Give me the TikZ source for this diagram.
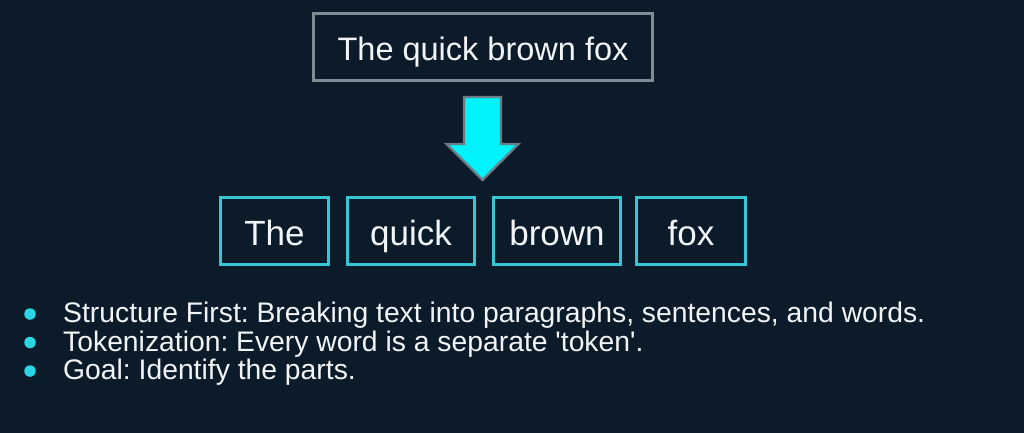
\documentclass[tikz,border=0pt]{standalone}
\usepackage{fontspec}
\setmainfont{Liberation Sans}
\frenchspacing
\definecolor{bgcol}{HTML}{0C1B2A}
\definecolor{graybox}{HTML}{7F8C93}
\definecolor{cyanbox}{HTML}{38C6D4}
\definecolor{arrowfill}{HTML}{00F2FA}
\definecolor{arrowline}{HTML}{6A7C86}
\definecolor{bulletcol}{HTML}{2AD6E6}
\definecolor{txt}{HTML}{F2F5F7}
\begin{document}
\begin{tikzpicture}[x=1pt,y=-1pt,
  sentencebox/.style={draw=graybox, line width=2.5pt, fill=bgcol, text=txt,
    minimum width=339pt, minimum height=67pt, inner sep=0pt,
    text height=27pt, text depth=0pt,
    font=\fontsize{32.5}{36}\selectfont},
  tokenbox/.style={draw=cyanbox, line width=3pt, fill=bgcol, text=txt,
    minimum height=67pt, inner sep=0pt,
    text height=28pt, text depth=0pt,
    font=\fontsize{35}{40}\selectfont},
  bigarrow/.style={fill=arrowfill, draw=arrowline, line width=2.2pt, line join=miter},
  bulletdot/.style={circle, fill=bulletcol, minimum size=11.5pt, inner sep=0pt},
  bullettext/.style={anchor=base west, text=txt, inner sep=0pt,
    font=\fontsize{28.3}{32}\selectfont}]
\fill[bgcol] (0,0) rectangle (1024,433);
\useasboundingbox (0,0) rectangle (1024,433);

\node[sentencebox] (sentence) at (483,47) {The quick brown fox};

\coordinate (arrowtop) at (482.5,97);
\draw[bigarrow] (arrowtop) ++(-18.5,0) -- ++(37,0) -- ++(0,47) -- ++(17.5,0)
  -- ++(-36,36) -- ++(-36,-36) -- ++(17.5,0) -- cycle;

\node[tokenbox, minimum width=108pt] (tThe) at (274.5,231) {The};
\node[tokenbox, minimum width=127pt] (tquick) at (411,231) {quick};
\node[tokenbox, minimum width=127pt] (tbrown) at (557,231) {brown};
\node[tokenbox, minimum width=109pt] (tfox) at (691,231) {fox};

\node[bulletdot] (b1) at (30,314) {};
\node[bulletdot] (b2) at (30,342.5) {};
\node[bulletdot] (b3) at (30,371) {};
\node[bullettext] (l1) at (63,322.5) {Structure First: Breaking text into paragraphs, sentences, and words.};
\node[bullettext] (l2) at (63,351) {Tokenization: Every word is a separate \textquotesingle token\textquotesingle.};
\node[bullettext] (l3) at (63,379.5) {Goal: Identify the parts.};
\end{tikzpicture}
\end{document}
